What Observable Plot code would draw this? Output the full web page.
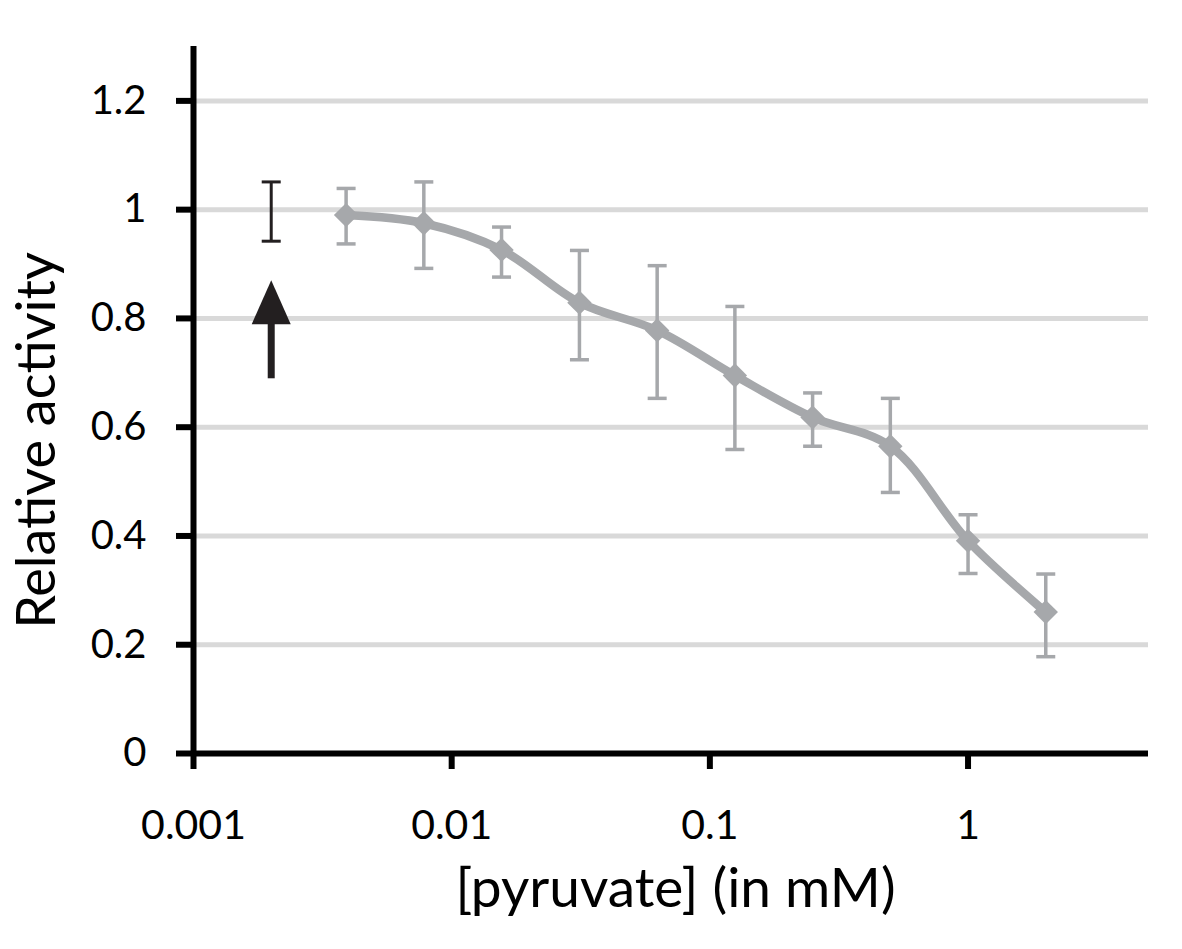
<!DOCTYPE html>
<html>
<head>
<meta charset="utf-8">
<script src="https://cdn.jsdelivr.net/npm/d3@7"></script>
<script src="https://cdn.jsdelivr.net/npm/@observablehq/plot@0.6"></script>
<style>
  html, body { margin: 0; padding: 0; background: #ffffff; }
  #chart svg { display: block; }
</style>
</head>
<body>
<div id="chart"></div>
<script>
// ---- data ----
const concentration = [0.0039, 0.0078, 0.0156, 0.03125, 0.0625, 0.125, 0.25, 0.5, 1, 2];
const activity      = [0.990, 0.975, 0.926, 0.829, 0.778, 0.695, 0.618, 0.565, 0.391, 0.260];
const errorHigh     = [1.039, 1.051, 0.968, 0.925, 0.897, 0.822, 0.663, 0.653, 0.439, 0.330];
const errorLow      = [0.937, 0.892, 0.876, 0.724, 0.653, 0.559, 0.565, 0.480, 0.331, 0.178];

// control (no pyruvate) error bar and arrow
const controlX    = [0.002];
const controlHigh = [1.051];
const controlLow  = [0.942];
const arrowTail   = [0.689];
const arrowTip    = [0.870];

// axes
const xTicks = [0.001, 0.01, 0.1, 1];
const yTicks = [0, 0.2, 0.4, 0.6, 0.8, 1, 1.2];
const gridTicks = [0.2, 0.4, 0.6, 0.8, 1, 1.2];
const xLabel = "[pyruvate] (in mM)";
const yLabel = "Relative activity";

// ---- tables ----
const points = concentration.map((c, i) => ({c, a: activity[i], hi: errorHigh[i], lo: errorLow[i]}));
const control = controlX.map((c, i) => ({c, hi: controlHigh[i], lo: controlLow[i], tail: arrowTail[i], tip: arrowTip[i]}));

const GRAY = "#a6a8ab";
const DARK = "#231f20";

// custom symbols
const capSymbol = { draw(ctx, size) { const r = Math.sqrt(size / Math.PI); ctx.moveTo(-r, 0); ctx.lineTo(r, 0); } };
const arrowHead = { draw(ctx, size) { const r = Math.sqrt(size / Math.PI); ctx.moveTo(0, 0); ctx.lineTo(-r, 2.25 * r); ctx.lineTo(r, 2.25 * r); ctx.closePath(); } };

const chart = Plot.plot({
  width: 1182,
  height: 949,
  marginLeft: 193,
  marginRight: 34,
  marginTop: 46,
  marginBottom: 196,
  style: { fontFamily: "Lato, 'Open Sans', sans-serif", color: "#000", background: "#fff" },
  x: { type: "log", domain: [0.001, 5] },
  y: { domain: [0, 1.3] },
  marks: [
    Plot.gridY(gridTicks, { stroke: "#d9d9d9", strokeWidth: 5, strokeOpacity: 1 }),
    // control error bar
    Plot.ruleX(control, { x: "c", y1: "lo", y2: "hi", stroke: DARK, strokeWidth: 3 }),
    Plot.dot(control, { x: "c", y: "hi", symbol: capSymbol, r: 9.5, stroke: DARK, strokeWidth: 3 }),
    Plot.dot(control, { x: "c", y: "lo", symbol: capSymbol, r: 9.5, stroke: DARK, strokeWidth: 3 }),
    // arrow
    Plot.ruleX(control, { x: "c", y1: "tip", y2: "tail", insetTop: 25, stroke: DARK, strokeWidth: 7 }),
    Plot.dot(control, { x: "c", y: "tip", symbol: arrowHead, r: 19.5, fill: DARK, stroke: "none" }),
    // series error bars
    Plot.ruleX(points, { x: "c", y1: "lo", y2: "hi", stroke: GRAY, strokeWidth: 3.5 }),
    Plot.dot(points, { x: "c", y: "hi", symbol: capSymbol, r: 9.5, stroke: GRAY, strokeWidth: 3.5 }),
    Plot.dot(points, { x: "c", y: "lo", symbol: capSymbol, r: 9.5, stroke: GRAY, strokeWidth: 3.5 }),
    // series line + markers
    Plot.line(points, { x: "c", y: "a", stroke: GRAY, strokeWidth: 8.5, curve: "catmull-rom" }),
    Plot.dot(points, { x: "c", y: "a", symbol: "diamond2", r: 11, fill: GRAY, stroke: "none" }),
    // axes
    Plot.ruleX([0.001], { stroke: "#000", strokeWidth: 6 }),
    Plot.ruleY([0], { stroke: "#000", strokeWidth: 6 }),
    Plot.axisY(yTicks, { tickSize: 17, tickPadding: 30, strokeWidth: 6, fontSize: 40, tickFormat: d => String(d), label: null }),
    Plot.axisX(xTicks, { tickSize: 16, tickPadding: 40, strokeWidth: 6, fontSize: 41, tickFormat: d => String(d), label: null }),
    // axis titles
    Plot.text([yLabel], { text: d => d, frameAnchor: "left", textAnchor: "middle", rotate: -90, dx: -156, dy: 40.5, fontSize: 54, fill: "#000" }),
    Plot.text([xLabel], { text: d => d, frameAnchor: "bottom", textAnchor: "middle", dx: 4.5, dy: 153, fontSize: 55, fill: "#000" })
  ]
});
document.getElementById("chart").appendChild(chart);
</script>
</body>
</html>
